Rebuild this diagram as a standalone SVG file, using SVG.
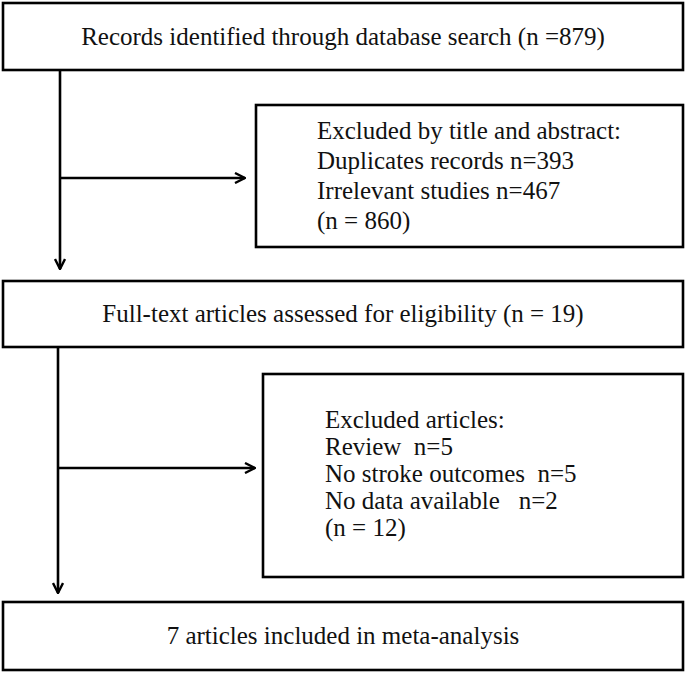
<svg xmlns="http://www.w3.org/2000/svg" width="685" height="673" viewBox="0 0 685 673">
<style>
.box{fill:#fff;stroke:#000;stroke-width:2.6}
.t{font-family:"Liberation Serif","Times New Roman",serif;font-size:25px;fill:#111}
.c{text-anchor:middle}
.ln{fill:none;stroke:#000;stroke-width:2.6}
</style>
<defs>
<marker id="ah" viewBox="0 0 12 12" refX="11" refY="6" markerWidth="12" markerHeight="12" markerUnits="userSpaceOnUse" orient="auto">
<path d="M1,1 L11,6 L1,11" fill="none" stroke="#000" stroke-width="2.4"/>
</marker>
</defs>
<rect width="685" height="673" fill="#fff"/>
<g id="connectors">
<line class="ln" x1="60" y1="71" x2="60" y2="269" marker-end="url(#ah)"/>
<line class="ln" x1="60" y1="178" x2="245" y2="178" marker-end="url(#ah)"/>
<line class="ln" x1="58" y1="348" x2="58" y2="593" marker-end="url(#ah)"/>
<line class="ln" x1="58" y1="468" x2="255" y2="468" marker-end="url(#ah)"/>
</g>
<g id="records">
<rect class="box" x="3" y="3" width="680" height="67"/>
<text class="t c" x="343" y="45">Records identified through database search (n =879)</text>
</g>
<g id="excluded1">
<rect class="box" x="256" y="105" width="427" height="142"/>
<text class="t" x="317" y="139">Excluded by title and abstract:</text>
<text class="t" x="317" y="169">Duplicates records n=393</text>
<text class="t" x="317" y="199">Irrelevant studies n=467</text>
<text class="t" x="317" y="229">(n = 860)</text>
</g>
<g id="fulltext">
<rect class="box" x="3" y="281" width="680" height="66"/>
<text class="t c" x="343" y="322">Full-text articles assessed for eligibility (n = 19)</text>
</g>
<g id="excluded2">
<rect class="box" x="263" y="374" width="420" height="203"/>
<text class="t" x="325" y="428">Excluded articles:</text>
<text class="t" x="325" y="455" xml:space="preserve">Review  n=5</text>
<text class="t" x="325" y="482" xml:space="preserve">No stroke outcomes  n=5</text>
<text class="t" x="325" y="509" xml:space="preserve">No data available   n=2</text>
<text class="t" x="325" y="536">(n = 12)</text>
</g>
<g id="included">
<rect class="box" x="3" y="602" width="680" height="68"/>
<text class="t c" x="343" y="644">7 articles included in meta-analysis</text>
</g>
</svg>
